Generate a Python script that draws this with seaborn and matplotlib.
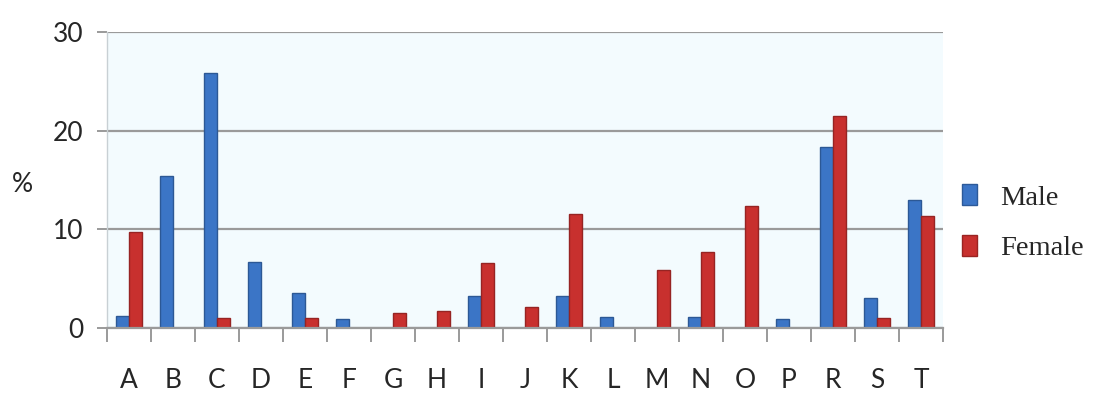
import matplotlib
matplotlib.use("Agg")
import matplotlib.pyplot as plt
import seaborn as sns
import pandas as pd
from matplotlib.patches import Patch
from matplotlib.ticker import MultipleLocator

categories = ["A", "B", "C", "D", "E", "F", "G", "H", "I", "J",
              "K", "L", "M", "N", "O", "P", "R", "S", "T"]
male = [1.2, 15.4, 25.8, 6.7, 3.5, 0.9, 0.0, 0.0, 3.2, 0.0,
        3.2, 1.1, 0.0, 1.1, 0.0, 0.9, 18.3, 3.0, 13.0]
female = [9.7, 0.0, 1.0, 0.0, 1.0, 0.0, 1.5, 1.7, 6.6, 2.1,
          11.5, 0.0, 5.9, 7.7, 12.4, 0.0, 21.5, 1.0, 11.3]
series = ["Male", "Female"]
yticks = [0, 10, 20, 30]

blue = "#3b75c6"
red = "#c8302e"

df = pd.DataFrame({
    "cat": categories * 2,
    "val": male + female,
    "sex": [series[0]] * len(categories) + [series[1]] * len(categories),
})

sns.set_style("white")
plt.rcParams["font.family"] = ["Lato", "DejaVu Sans"]

fig = plt.figure(figsize=(10.99, 3.96), dpi=100)
ax = fig.add_axes([0.0974, 0.172, 0.7606, 0.747])
ax.set_facecolor("#f3fbfe")

sns.barplot(data=df, x="cat", y="val", hue="sex", order=categories,
            hue_order=series, palette=[blue, red], width=0.6,
            saturation=1, ax=ax, legend=False, linewidth=1.0,
            edgecolor="none")
for patch in ax.patches:
    fc = patch.get_facecolor()
    patch.set_edgecolor(tuple(c * 0.75 for c in fc[:3]))

ax.set_xlim(-0.5, len(categories) - 0.5)
ax.set_ylim(0, 30)
ax.set_yticks(yticks)
ax.yaxis.grid(True, color="#9a9a9a", linewidth=1.6)
ax.set_axisbelow(True)

for s in ["top", "right"]:
    ax.spines[s].set_visible(False)
ax.spines["left"].set_color("#c8d0d4")
ax.spines["left"].set_linewidth(1.0)
ax.spines["bottom"].set_color("#9a9a9a")
ax.spines["bottom"].set_linewidth(1.6)

ax.xaxis.set_minor_locator(MultipleLocator(1, offset=0.5))
ax.tick_params(axis="x", which="major", length=0, pad=29, labelsize=19)
ax.tick_params(axis="x", which="minor", length=10, width=1.4, color="#9a9a9a",
               direction="out", bottom=True)
ax.tick_params(axis="y", length=7, width=1.4, color="#9a9a9a", labelsize=19,
               pad=10, left=True)

ax.set_xlabel("")
ax.set_ylabel("")
fig.text(0.02, 0.535, "%", fontsize=19, ha="center", va="center")

handles = [Patch(facecolor=blue, edgecolor="#2c5a99"),
           Patch(facecolor=red, edgecolor="#9a2422")]
fig.legend(handles, series, loc="center left", bbox_to_anchor=(0.857, 0.437),
           frameon=False, prop={"family": "Liberation Serif", "size": 20.5},
           handlelength=0.55, handleheight=0.75, handletextpad=0.8,
           labelspacing=0.85, borderpad=0.2)

fig.savefig("out.png", dpi=100)
